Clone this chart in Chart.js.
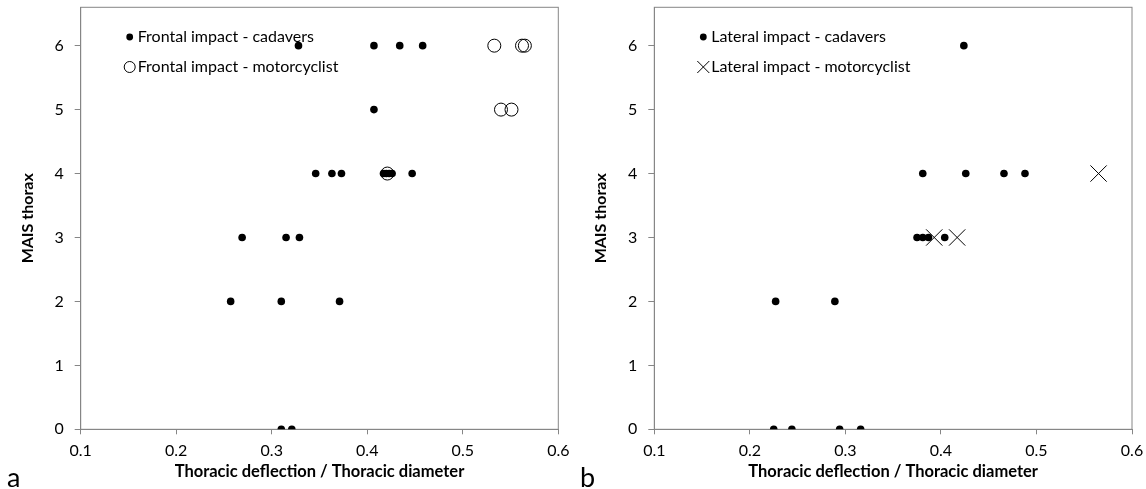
<!DOCTYPE html>
<html>
<head>
<meta charset="utf-8">
<script src="https://cdn.jsdelivr.net/npm/chart.js@4/dist/chart.umd.min.js"></script>
<style>
  body { margin: 0; background: #fff; width: 1146px; height: 489px; position: relative; overflow: hidden; }
  .panel { position: absolute; top: 0; width: 573px; height: 489px; }
  .tag { position: absolute; font-family: Lato, 'Liberation Sans', sans-serif; font-size: 27px; color: #000; }
</style>
</head>
<body>
<div class="panel" style="left:0"><canvas id="frontal" width="573" height="489"></canvas></div>
<div class="panel" style="left:573px"><canvas id="lateral" width="573" height="489"></canvas></div>
<div class="tag" style="left:7px; top:460px">a</div>
<div class="tag" style="left:580px; top:460px">b</div>
<script>
   // frontal impact, cadavers
   const frontalCadX = [0.310, 0.321, 0.257, 0.310, 0.371, 0.269, 0.315, 0.329,
       0.346, 0.363, 0.373, 0.417, 0.420, 0.423, 0.426, 0.447, 0.407,
       0.328, 0.407, 0.434, 0.458];
   const frontalCadY = [0, 0, 2, 2, 2, 3, 3, 3,
       4, 4, 4, 4, 4, 4, 4, 4, 5,
       6, 6, 6, 6];
   // frontal impact, motorcyclists
   const frontalMotoX = [0.421, 0.540, 0.551, 0.533, 0.562, 0.565];
   const frontalMotoY = [4, 5, 5, 6, 6, 6];

   // lateral impact, cadavers
   const lateralCadX = [0.225, 0.244, 0.294, 0.316, 0.227, 0.289,
       0.375, 0.381, 0.387, 0.404, 0.381, 0.426, 0.466, 0.488, 0.424];
   const lateralCadY = [0, 0, 0, 0, 2, 2,
       3, 3, 3, 3, 4, 4, 4, 4, 6];
   // lateral impact, motorcyclists
   const lateralMotoX = [0.393, 0.417, 0.565];
   const lateralMotoY = [3, 3, 4];

   const xTicks = [0.1, 0.2, 0.3, 0.4, 0.5, 0.6];
   const yTicks = [0, 1, 2, 3, 4, 5, 6];
   const xTitle = 'Thoracic deflection / Thoracic diameter';
   const yTitle = 'MAIS thorax';

   const axisGrey = '#868686';
   const fontName = "Lato, 'Liberation Sans', sans-serif";

   function toPoints(xs, ys) {
       return xs.map((x, i) => ({ x: x, y: ys[i] }));
   }

   //    plot frame + legend in the top left corner
   const framePlugin = {
       id: 'frame',
       beforeDatasetsDraw(chart) {
           const { ctx, chartArea: a } = chart;
           ctx.save();
           ctx.strokeStyle = axisGrey;
           ctx.lineWidth = 1;
           ctx.strokeRect(a.left, a.top, a.right - a.left, a.bottom - a.top);
           ctx.restore();
       },
       afterDraw(chart, args, opts) {
           const { ctx, chartArea: a } = chart;
           ctx.save();
           ctx.font = '16px ' + fontName;
           ctx.textBaseline = 'middle';
           ctx.fillStyle = '#000';
           ctx.strokeStyle = '#000';
           ctx.lineWidth = 1;
           opts.items.forEach((item, i) => {
               const mx = a.left + opts.x;
               const my = opts.y + i * opts.gap;
               ctx.beginPath();
               if (item.style === 'dot') {
                   ctx.arc(mx, my, 3.4, 0, Math.PI * 2);
                   ctx.fill();
               } else if (item.style === 'ring') {
                   ctx.arc(mx, my, 5.5, 0, Math.PI * 2);
                   ctx.stroke();
               } else {
                   ctx.moveTo(mx - 6, my - 6); ctx.lineTo(mx + 6, my + 6);
                   ctx.moveTo(mx + 6, my - 6); ctx.lineTo(mx - 6, my + 6);
                   ctx.stroke();
               }
               ctx.fillText(item.text, mx + 8, my);
           });
           ctx.restore();
       }
   };

   function makeChart(id, datasets, legendItems, plotLeft, padRight) {
       const config = {
           type: 'scatter',
           data: { datasets: datasets },
           options: {
               responsive: false,
               animation: false,
               events: [],
               layout: {
                   autoPadding: false,
                   padding: { top: 7.3, right: padRight, bottom: 0, left: 0 }
               },
               plugins: {
                   legend: { display: false },
                   tooltip: { enabled: false },
                   frame: { items: legendItems, x: 49, y: 37, gap: 30 }
               },
               scales: {
                   x: {
                       type: 'linear',
                       min: 0.1,
                       max: 0.6,
                       afterBuildTicks: (scale) => { scale.ticks = xTicks.map(v => ({ value: v })); },
                       afterFit: (scale) => {
                           scale.height = 59.7;
                           scale.paddingLeft = 0;
                           scale.paddingRight = 0;
                       },
                       grid: { drawOnChartArea: false, drawTicks: true, tickLength: 5, color: axisGrey },
                       border: { display: true, color: axisGrey },
                       ticks: {
                           color: '#000',
                           padding: 7,
                           maxRotation: 0,
                           font: { family: fontName, size: 16 },
                           callback: v => v.toFixed(1)
                       },
                       title: {
                           display: true,
                           text: xTitle,
                           color: '#000',
                           padding: { top: 0, bottom: 7 },
                           font: { family: fontName, size: 16.5, weight: 'bold' }
                       }
                   },
                   y: {
                       type: 'linear',
                       min: 0,
                       max: 6.6,
                       afterBuildTicks: (scale) => { scale.ticks = yTicks.map(v => ({ value: v })); },
                       afterFit: (scale) => {
                           scale.width = plotLeft;
                           scale.paddingTop = 0;
                           scale.paddingBottom = 0;
                       },
                       grid: { drawOnChartArea: false, drawTicks: true, tickLength: 6, color: axisGrey },
                       border: { display: true, color: axisGrey },
                       ticks: {
                           color: '#000',
                           padding: 11,
                           font: { family: fontName, size: 16 }
                       },
                       title: {
                           display: true,
                           text: yTitle,
                           color: '#000',
                           padding: { top: 18, bottom: 0 },
                           font: { family: fontName, size: 16, weight: 'bold' }
                       }
                   }
               }
           },
           plugins: [framePlugin]
       };
       return new Chart(document.getElementById(id), config);
   }

   const dotStyle = {
       pointStyle: 'circle',
       pointRadius: 3.8,
       backgroundColor: '#000',
       borderColor: '#000',
       borderWidth: 0
   };

   makeChart('frontal', [
       Object.assign({ label: 'Frontal impact - cadavers', data: toPoints(frontalCadX, frontalCadY) }, dotStyle),
       {
           label: 'Frontal impact - motorcyclist',
           data: toPoints(frontalMotoX, frontalMotoY),
           pointStyle: 'circle',
           pointRadius: 6.5,
           backgroundColor: 'rgba(0,0,0,0)',
           borderColor: '#000',
           borderWidth: 1
       }
   ], [
       { style: 'dot', text: 'Frontal impact - cadavers' },
       { style: 'ring', text: 'Frontal impact - motorcyclist' }
   ], 80.7, 14.7);

   makeChart('lateral', [
       Object.assign({ label: 'Lateral impact - cadavers', data: toPoints(lateralCadX, lateralCadY) }, dotStyle),
       {
           label: 'Lateral impact - motorcyclist',
           data: toPoints(lateralMotoX, lateralMotoY),
           pointStyle: 'crossRot',
           pointRadius: 11.5,
           backgroundColor: '#000',
           borderColor: '#000',
           borderWidth: 1
       }
   ], [
       { style: 'dot', text: 'Lateral impact - cadavers' },
       { style: 'cross', text: 'Lateral impact - motorcyclist' }
   ], 81.3, 14);
</script>
</body>
</html>
